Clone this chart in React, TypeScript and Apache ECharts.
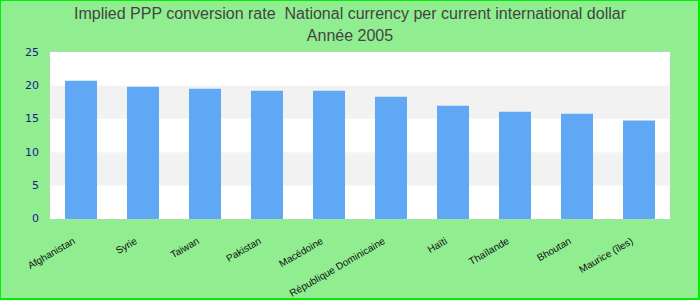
import React, { useEffect, useRef } from "react";
import * as echarts from "echarts";

const titleText = "Implied PPP conversion rate  National currency per current international dollar";
const subtitleText = "Année 2005";
const categories = [
  "Afghanistan",
  "Syrie",
  "Taiwan",
  "Pakistan",
  "Macédoine",
  "République Dominicaine",
  "Haïti",
  "Thaïlande",
  "Bhoutan",
  "Maurice (îles)",
];
const values = [20.7, 19.8, 19.5, 19.2, 19.2, 18.3, 16.95, 16.05, 15.75, 14.75];
const yTicks = [0, 5, 10, 15, 20, 25];

export default function App() {
  const ref = useRef<HTMLDivElement>(null);
  useEffect(() => {
    document.body.style.margin = "0";
    const chart = echarts.init(ref.current!, null, { renderer: "svg" });
    chart.setOption({
      animation: false,
      backgroundColor: "#90ee90",
      title: {
        text: titleText + "\n" + subtitleText,
        left: "center",
        top: -3,
        textStyle: {
          fontFamily: "Liberation Sans, Arial",
          fontWeight: "normal",
          fontSize: 16,
          color: "#444444",
          lineHeight: 22,
        },
      },
      grid: {
        left: 50,
        right: 30,
        top: 52,
        bottom: 80,
        show: true,
        backgroundColor: "#ffffff",
        borderColor: "#cccccc",
        borderWidth: 1,
      },
      xAxis: {
        type: "category",
        data: categories,
        axisLine: { show: false },
        axisTick: { show: false },
        axisLabel: {
          rotate: 30,
          interval: 0,
          margin: 17,
          padding: [0, 8, 0, 0],
          color: "#111111",
          fontSize: 10,
          fontFamily: "Liberation Sans, Arial",
        },
      },
      yAxis: {
        type: "value",
        min: yTicks[0],
        max: yTicks[yTicks.length - 1],
        interval: 5,
        axisLine: { show: false },
        axisTick: { show: false },
        splitLine: { show: false },
        splitArea: { show: true, areaStyle: { color: ["#ffffff", "#f2f2f2"] } },
        axisLabel: {
          color: "#1a1a8c",
          fontSize: 11,
          fontFamily: "DejaVu Sans, Verdana",
          margin: 11,
        },
      },
      series: [
        {
          type: "bar",
          data: values,
          barWidth: 32,
          itemStyle: { color: "#60a8f4" },
        },
      ],
    });
    return () => chart.dispose();
  }, []);
  return (
    <div style={{ position: "relative", width: 700, height: 300 }}>
      <div ref={ref} style={{ width: 700, height: 300 }} />
      <div
        style={{
          position: "absolute",
          left: 0,
          top: 0,
          width: 700,
          height: 300,
          boxSizing: "border-box",
          pointerEvents: "none",
          borderTop: "1px solid #00ee00",
          borderLeft: "1px solid #00ee00",
          borderRight: "2px solid #00ee00",
          borderBottom: "2px solid #00ee00",
        }}
      />
    </div>
  );
}
